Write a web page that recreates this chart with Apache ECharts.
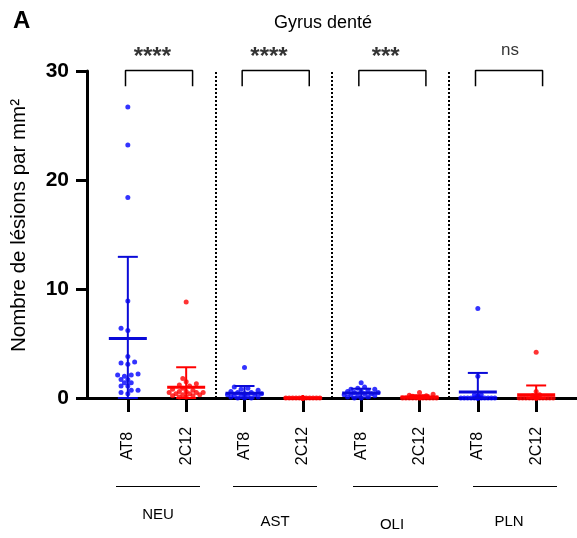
<!DOCTYPE html>
<html>
<head>
<meta charset="utf-8">
<script src="https://cdn.jsdelivr.net/npm/echarts@6/dist/echarts.min.js"></script>
<style>
  html, body { margin: 0; padding: 0; background: #fff; }
  #chart { width: 577px; height: 538px; }
</style>
</head>
<body>
<div id="chart"></div>
<script>
// categories and groups
const categories = ['AT8', '2C12', 'AT8', '2C12', 'AT8', '2C12', 'AT8', '2C12']
const groups = ['NEU', 'AST', 'OLI', 'PLN']
const significance = ['****', '****', '***', 'ns']
const yTicks = [0, 10, 20, 30]

// lesions per mm2, one array per column
const neuAT8 = [26.7, 23.2, 18.4, 8.9, 6.4, 6.2, 3.8, 3.3, 3.2, 3.1, 2.2, 2.1, 2.1, 2.0, 1.7, 1.7, 1.4, 1.4, 1.1, 1.1, 0.7, 0.7, 0.5, 0.4]
const neu2C12 = [8.8, 1.8, 1.5, 1.3, 1.2, 1.1, 0.9, 0.8, 0.7, 0.6, 0.6, 0.5, 0.5, 0.5, 0.4, 0.4, 0.3, 0.3, 0.2, 0.2, 0.1, 0.1]
const astAT8 = [2.8, 1.0, 0.9, 0.8, 0.7, 0.6, 0.5, 0.5, 0.4, 0.4, 0.3, 0.3, 0.2, 0.2, 0.2, 0.1, 0.1, 0, 0, 0]
const ast2C12 = [0, 0, 0, 0, 0, 0, 0, 0, 0, 0, 0, 0, 0, 0, 0, 0, 0, 0, 0, 0]
const oliAT8 = [1.4, 1.0, 0.9, 0.8, 0.8, 0.7, 0.6, 0.6, 0.5, 0.5, 0.4, 0.4, 0.3, 0.3, 0.2, 0.2, 0.1, 0.1, 0, 0]
const oli2C12 = [0.5, 0.35, 0.25, 0.2, 0.15, 0.1, 0.1, 0.05, 0, 0, 0, 0, 0, 0, 0, 0, 0, 0, 0, 0]
const plnAT8 = [8.2, 2.0, 0.3, 0.3, 0.2, 0, 0, 0, 0, 0, 0, 0, 0, 0, 0, 0, 0, 0, 0, 0]
const pln2C12 = [4.2, 0.6, 0.3, 0.2, 0.1, 0, 0, 0, 0, 0, 0, 0, 0, 0, 0, 0, 0, 0, 0, 0]

// mean and SD
const means = [5.45, 0.98, 0.43, 0, 0.45, 0.1, 0.55, 0.3]
const sds = [7.5, 1.84, 0.67, 0, 0.4, 0.15, 1.75, 0.85]

const columns = [neuAT8, neu2C12, astAT8, ast2C12, oliAT8, oli2C12, plnAT8, pln2C12]
const BLUE = '#0000ff'
const RED = '#ff0000'
const FONT = 'Liberation Sans, Arial, sans-serif'

const X_MIN = -0.7
const X_MAX = 7.7
const PLOT_W = 490
const PLOT_H = 327
const pxX = PLOT_W / (X_MAX - X_MIN)
const pxY = PLOT_H / 30

// simple beeswarm so the dots spread sideways like in Prism
const swarm = (values) => {
  const step = 3.4, maxOff = 17, minDist = 4.5
  const placed = []
  const order = values.map((v, i) => i).sort((a, b) => values[a] - values[b])
  const offsets = new Array(values.length).fill(0)
  order.forEach(i => {
    const y = values[i] * pxY
    let best = 0, bestD = -1
    search:
    for (let k = 0; k * step <= maxOff; k++) {
      for (const s of (k === 0 ? [0] : [-1, 1])) {
        const x = s * k * step
        let d = Infinity
        placed.forEach(q => { d = Math.min(d, Math.hypot(q.x - x, q.y - y)) })
        if (d >= minDist) { best = x; break search }
        if (d > bestD) { bestD = d; best = x }
      }
    }
    placed.push({ x: best, y })
    offsets[i] = best
  })
  return values.map((v, i) => [offsets[i] / pxX, v])
}

const scatterSeries = columns.map((vals, c) => ({
  type: 'scatter',
  xAxisIndex: 0,
  yAxisIndex: 0,
  symbolSize: 5,
  itemStyle: { color: c % 2 === 0 ? BLUE : RED },
  clip: false,
  z: 3,
  data: swarm(vals).map(p => [c + p[0], p[1]])
}))

const statSeries = {
  type: 'custom',
  xAxisIndex: 0,
  yAxisIndex: 0,
  z: 4,
  clip: false,
  data: means.map((m, i) => [i, m, sds[i]]),
  renderItem: (params, api) => {
    const i = api.value(0), m = api.value(1), sd = api.value(2)
    const color = i % 2 === 0 ? '#0a0ad8' : RED
    const c = api.coord([i, m])
    const top = api.coord([i, m + sd])
    const bot = api.coord([i, Math.max(m - sd, 0)])
    const children = [{
      type: 'line',
      shape: { x1: c[0] - 19, y1: c[1], x2: c[0] + 19, y2: c[1] },
      style: { stroke: color, lineWidth: 3 }
    }]
    if (sd > 0) {
      children.push(
        { type: 'line', shape: { x1: c[0], y1: top[1], x2: c[0], y2: bot[1] }, style: { stroke: color, lineWidth: 2 } },
        { type: 'line', shape: { x1: c[0] - 10, y1: top[1], x2: c[0] + 10, y2: top[1] }, style: { stroke: color, lineWidth: 2 } },
        { type: 'line', shape: { x1: c[0] - 10, y1: bot[1], x2: c[0] + 10, y2: bot[1] }, style: { stroke: color, lineWidth: 2 } }
      )
    }
    return { type: 'group', children }
  }
}

// comparison brackets and their labels
const bracketSeries = groups.map((g, k) => {
  const a = 2 * k - 0.04, b = 2 * k + 1.11
  return {
    type: 'line',
    xAxisIndex: 0,
    yAxisIndex: 0,
    symbol: 'none',
    clip: false,
    silent: true,
    lineStyle: { color: '#000', width: 1.5 },
    data: [[a, 28.6], [a, 30.05], [b, 30.05], [b, 28.6]]
  }
})

const labelSeries = {
  type: 'scatter',
  xAxisIndex: 0,
  yAxisIndex: 0,
  symbolSize: 1,
  itemStyle: { color: 'rgba(0,0,0,0)' },
  clip: false,
  silent: true,
  data: significance.map((s, k) => ({
    value: [2 * k + (s === 'ns' ? 0.55 : 0.42), s === 'ns' ? 31.9 : 31.25],
    label: {
      show: true,
      position: 'inside',
      formatter: s,
      color: '#000',
      fontFamily: FONT,
      fontSize: s === 'ns' ? 17 : 24,
      fontWeight: s === 'ns' ? 'normal' : 'bold'
    }
  }))
}

const chart = echarts.init(document.getElementById('chart'), null, { renderer: 'canvas' })

const groupLines = [[116, 200], [233, 317], [353, 438], [473, 557]]
const groupText = [[158, 515], [275, 522], [392, 525], [509, 522]]

chart.setOption({
  backgroundColor: '#fff',
  animation: false,
  title: [
    {
      text: 'A',
      left: 8,
      top: 4,
      textStyle: { fontFamily: FONT, fontSize: 24, fontWeight: 'bold', color: '#000' }
    },
    {
      text: 'Gyrus denté',
      left: 318,
      top: 9,
      textAlign: 'center',
      textStyle: { fontFamily: FONT, fontSize: 18, fontWeight: 'normal', color: '#000' }
    }
  ],
  grid: [
    { left: 87, right: 0, top: 71, bottom: 140 },
    { left: 98.8, right: 11.5, top: 71, bottom: 140 }
  ],
  xAxis: [
    {
      type: 'value',
      gridIndex: 0,
      min: X_MIN,
      max: X_MAX,
      axisLine: { show: true, onZero: false, lineStyle: { color: '#000', width: 3 } },
      axisTick: { show: false },
      axisLabel: { show: false },
      splitLine: { show: false }
    },
    {
      type: 'category',
      gridIndex: 1,
      data: categories,
      axisLine: { show: true, onZero: false, lineStyle: { color: 'rgba(0,0,0,0)' } },
      axisTick: { show: true, alignWithLabel: true, length: 14, lineStyle: { color: '#000', width: 3 } },
      axisLabel: {
        rotate: 90,
        align: 'center',
        margin: 48,
        fontFamily: FONT,
        fontSize: 16,
        color: '#000'
      }
    }
  ],
  yAxis: [
    {
      type: 'value',
      gridIndex: 0,
      min: yTicks[0],
      max: yTicks[yTicks.length - 1],
      interval: 10,
      name: 'Nombre de lésions par mm²',
      nameLocation: 'middle',
      nameGap: 57,
      nameTextStyle: { fontFamily: FONT, fontSize: 20.5, color: '#000', padding: [0, 0, 0, 18] },
      axisLine: { show: true, onZero: false, lineStyle: { color: '#000', width: 3 } },
      axisTick: { show: true, length: 11, lineStyle: { color: '#000', width: 3 } },
      axisLabel: { margin: 18, fontFamily: FONT, fontSize: 21, fontWeight: 'bold', color: '#000' },
      splitLine: { show: false }
    },
    {
      type: 'value',
      gridIndex: 1,
      min: 0,
      max: 30,
      show: false
    }
  ],
  series: [
    {
      type: 'line',
      xAxisIndex: 0,
      yAxisIndex: 0,
      data: [],
      markLine: {
        silent: true,
        symbol: 'none',
        label: { show: false },
        lineStyle: { color: '#000', type: 'dotted', width: 2 },
        data: [{ xAxis: 1.5 }, { xAxis: 3.5 }, { xAxis: 5.5 }]
      }
    },
    ...scatterSeries,
    statSeries,
    ...bracketSeries,
    labelSeries
  ],
  graphic: [
    ...groupLines.map(l => ({
      type: 'line',
      shape: { x1: l[0], y1: 486.5, x2: l[1], y2: 486.5 },
      style: { stroke: '#000', lineWidth: 1 }
    })),
    ...groups.map((g, k) => ({
      type: 'text',
      x: groupText[k][0],
      y: groupText[k][1],
      style: {
        text: g,
        fontFamily: FONT,
        fontSize: 15,
        fill: '#000',
        align: 'center',
        verticalAlign: 'middle'
      }
    }))
  ]
})
</script>
</body>
</html>
